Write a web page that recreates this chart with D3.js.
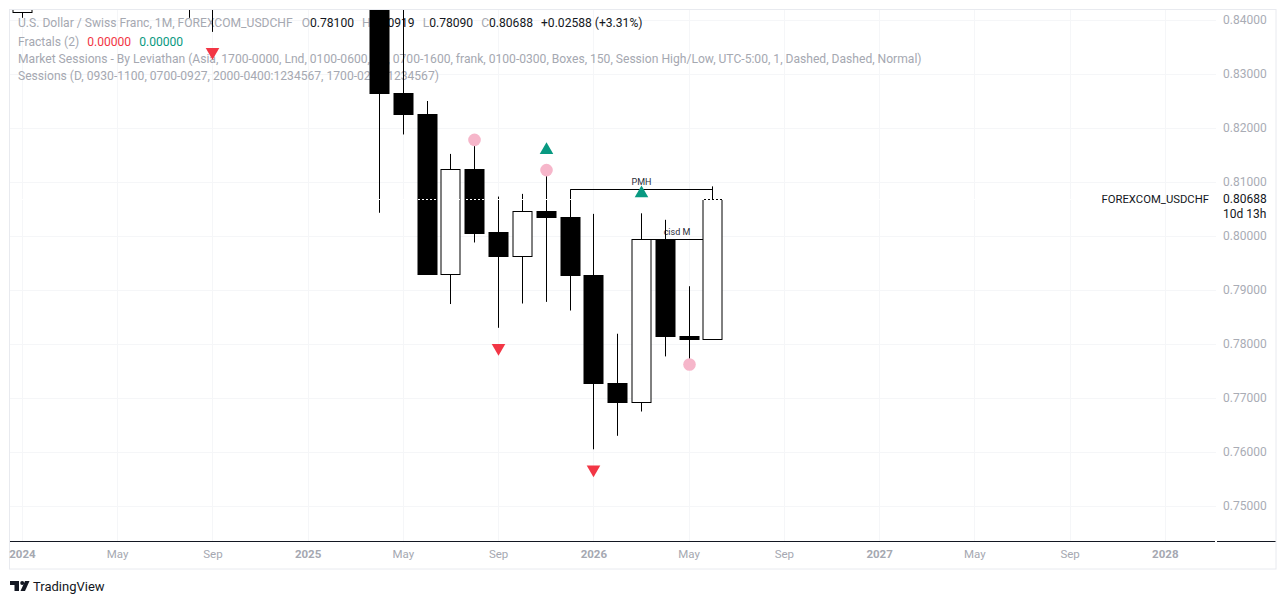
<!DOCTYPE html>
<html><head><meta charset="utf-8">
<script src="https://cdn.jsdelivr.net/npm/d3@7/dist/d3.min.js"></script>
<style>body{margin:0;background:#fff;overflow:hidden} svg{display:block}</style>
</head><body>
<svg id="c" width="1286" height="604"></svg>
<script>
// ---------------- DATA ----------------
const months = ["2024-01","2024-02","2024-03","2024-04","2024-05","2024-06","2024-07","2024-08","2024-09","2024-10","2024-11","2024-12",
  "2025-01","2025-02","2025-03","2025-04","2025-05","2025-06","2025-07","2025-08","2025-09","2025-10","2025-11","2025-12",
  "2026-01","2026-02","2026-03","2026-04","2026-05","2026-06"];
const opens  = [0.8414,0.8636,0.8838,0.9017,0.9172,0.9019,0.8987,0.8785,0.8488,0.8455,0.8650,0.8813,
  0.9075,0.9106,0.9027,0.8840,0.8264,0.8225,0.7930,0.8124,0.8007,0.7963,0.8046,0.8035,
  0.7927,0.7728,0.7693,0.7994,0.7814,0.78100];
const highs  = [0.8728,0.8853,0.9072,0.9244,0.9225,0.9050,0.9224,0.8820,0.8549,0.8690,0.8956,0.9120,
  0.9200,0.9145,0.9074,0.8917,0.8475,0.8250,0.8152,0.8178,0.8073,0.8078,0.8122,0.80865,
  0.8041,0.7819,0.8042,0.8030,0.7907,0.80919];
const lows   = [0.8404,0.8552,0.8728,0.9012,0.9015,0.8826,0.8747,0.8404,0.8378,0.8442,0.8614,0.8735,
  0.9012,0.8926,0.8757,0.8043,0.8188,0.7929,0.7874,0.7988,0.7830,0.7875,0.7878,0.7862,
  0.7605,0.7630,0.7675,0.7777,0.7762,0.78090];
const closes = [0.8636,0.8838,0.9017,0.9172,0.9019,0.8987,0.8785,0.8488,0.8455,0.8650,0.8813,0.9075,
  0.9106,0.9027,0.8840,0.8264,0.8225,0.7930,0.8124,0.8006,0.7963,0.8046,0.8035,0.7927,
  0.7728,0.7693,0.7994,0.7814,0.7810,0.80688];

const priceTicks = [0.75,0.76,0.77,0.78,0.79,0.80,0.81,0.82,0.83,0.84];
const timeTickIdx = [0,4,8,12,16,20,24,28,32,36,40,44,48];
const timeTickLabels = ["2024","May","Sep","2025","May","Sep","2026","May","Sep","2027","May","Sep","2028"];
const timeTickIsYear = [true,false,false,true,false,false,true,false,false,true,false,false,true];

const fractalDownIdx = [8,20,24];
const fractalUpIdx = [22,26];
const pivotHighIdx = [19,22];
const pivotLowIdx = [28];
const levelPrices = [0.80865, 0.79939];
const levelFrom = [23, 26];
const levelTo = [29, 29];
const levelLabels = ["PMH", "cisd M"];

const lastPrice = 0.80688;
const symbolName = "FOREXCOM_USDCHF";
const countdown = "10d 13h";

// ---------------- LAYOUT ----------------
const FONT = "Roboto, 'Liberation Sans', Arial, sans-serif";
const L = 10, R = 1216, T = 10, B = 541, AX = 1276, FB = 569;
const svg = d3.select("#c").style("font-family", FONT);

const x = d3.scaleLinear().domain([-0.5, 50.15]).range([L, R]);
const y = d3.scaleLinear().domain([0.75, 0.84]).range([506, 20]);
const step = x(1) - x(0);
const half = Math.round(step * 0.8 / 2) - 0.5;

svg.append("defs").append("clipPath").attr("id","plot")
  .append("rect").attr("x",L).attr("y",T).attr("width",R-L).attr("height",B-T);

// grid
const grid = svg.append("g").attr("stroke","#f5f6f8").attr("stroke-width",1);
grid.selectAll("line.h").data(priceTicks).join("line")
  .attr("x1",L).attr("x2",R).attr("y1",d=>Math.round(y(d))+0.5).attr("y2",d=>Math.round(y(d))+0.5);
grid.selectAll("line.v").data(timeTickIdx).join("line")
  .attr("y1",T).attr("y2",B).attr("x1",d=>Math.round(x(d))+0.5).attr("x2",d=>Math.round(x(d))+0.5);

// legend (drawn under candles)
const leg = svg.append("g").attr("font-size","12.1px");
function flow(yc, parts){
  let cx = 18;
  parts.forEach(p=>{
    cx += p.gap||0;
    const t = leg.append("text").attr("x",cx).attr("y",yc).attr("dy","0.35em").attr("fill",p.c).text(p.t);
    cx += t.node().getComputedTextLength();
  });
}
const G = "#a5a8b1", K = "#131722";
flow(23,[{t:"U.S. Dollar / Swiss Franc, 1M, FOREXCOM_USDCHF",c:G},
  {t:"O",c:G,gap:9},{t:"0.78100",c:K},{t:"H",c:G,gap:8},{t:"0.80919",c:K},
  {t:"L",c:G,gap:8},{t:"0.78090",c:K},{t:"C",c:G,gap:8},{t:"0.80688",c:K},
  {t:"+0.02588 (+3.31%)",c:K,gap:8}]);
flow(41.5,[{t:"Fractals (2)",c:G},{t:"0.00000",c:"#f23645",gap:8},{t:"0.00000",c:"#089981",gap:8}]);
flow(59,[{t:"Market Sessions - By Leviathan (Asia, 1700-0000, Lnd, 0100-0600, NY, 0700-1600, frank, 0100-0300, Boxes, 150, Session High/Low, UTC-5:00, 1, Dashed, Dashed, Normal)",c:G}]);
flow(76,[{t:"Sessions (D, 0930-1100, 0700-0927, 2000-0400:1234567, 1700-0200:1234567)",c:G}]);

// plot content
const plot = svg.append("g").attr("clip-path","url(#plot)");
const idx = d3.range(months.length);
const px = i => Math.round(x(i)) + 0.5;

// level lines
levelPrices.forEach((p,k)=>{
  const yy = Math.round(y(p))+0.5;
  plot.append("line").attr("x1",px(levelFrom[k])).attr("x2",px(levelTo[k]))
    .attr("y1",yy).attr("y2",yy).attr("stroke","#000").attr("stroke-width",1);
  plot.append("text").attr("x",(px(levelFrom[k])+px(levelTo[k]))/2).attr("y",yy-8)
    .attr("dy","0.35em").attr("text-anchor","middle").attr("font-size","9px").attr("fill","#2a2e39").text(levelLabels[k]);
});

// wicks
plot.append("g").selectAll("line").data(idx).join("line")
  .attr("x1",px).attr("x2",px)
  .attr("y1",i=>y(highs[i])).attr("y2",i=>y(lows[i]))
  .attr("stroke","#000").attr("stroke-width",1);
// bodies
plot.append("g").selectAll("rect").data(idx).join("rect")
  .attr("x",i=>px(i)-half).attr("width",half*2)
  .attr("y",i=>Math.round(y(Math.max(opens[i],closes[i])))+0.5)
  .attr("height",i=>Math.max(2, Math.round(y(Math.min(opens[i],closes[i])))-Math.round(y(Math.max(opens[i],closes[i])))))
  .attr("fill",i=>closes[i]>=opens[i]?"#fff":"#000")
  .attr("stroke","#000").attr("stroke-width",1);

// last price dotted line
const yl = Math.round(y(lastPrice))+0.5;
plot.append("line").attr("x1",L).attr("x2",R).attr("y1",yl).attr("y2",yl)
  .attr("stroke","#fff").attr("stroke-dasharray","2,2");

// pivot circles
plot.append("g").selectAll("circle").data(pivotHighIdx.map(i=>({i,p:highs[i]})).concat(pivotLowIdx.map(i=>({i,p:lows[i]}))))
  .join("circle").attr("cx",d=>px(d.i)).attr("cy",d=>y(d.p)).attr("r",6.3).attr("fill","#f6b6ca");

// fractal triangles
const tri = d3.symbol().type(d3.symbolTriangle).size(80);
plot.append("g").selectAll("path").data(fractalUpIdx).join("path")
  .attr("d",tri).attr("transform",i=>`translate(${px(i)},${y(highs[i])-20})`).attr("fill","#089981");
plot.append("g").selectAll("path").data(fractalDownIdx).join("path")
  .attr("d",tri).attr("transform",i=>`translate(${px(i)},${y(lows[i])+20}) rotate(180)`).attr("fill","#f23645");

// axes lines
svg.append("line").attr("x1",L).attr("x2",R-1).attr("y1",B+0.5).attr("y2",B+0.5).attr("stroke","#131722");
svg.append("line").attr("x1",R+1).attr("x2",AX).attr("y1",B+0.5).attr("y2",B+0.5).attr("stroke","#131722");
svg.append("rect").attr("x",9.5).attr("y",9.5).attr("width",AX-9.5).attr("height",FB-9.5)
  .attr("fill","none").attr("stroke","#e8eaef");

// price axis
const yAxis = d3.axisRight(y).tickValues(priceTicks).tickFormat(d3.format(".5f")).tickSize(0).tickPadding(0);
const ya = svg.append("g").attr("transform",`translate(1223,0)`).call(yAxis);
ya.select(".domain").remove();
ya.selectAll("text").attr("fill","#a9acb5").attr("font-size","12px").attr("font-family",FONT);

// time axis
const xAxis = d3.axisBottom(x).tickValues(timeTickIdx).tickFormat((d,k)=>timeTickLabels[k]).tickSize(0).tickPadding(0);
const xa = svg.append("g").attr("transform",`translate(0,549.5)`).call(xAxis);
xa.select(".domain").remove();
xa.selectAll("text").attr("fill","#a5a8b1").attr("font-size","11.5px").attr("font-family",FONT)
  .attr("font-weight",(d,k)=>timeTickIsYear[k]?"700":"400");

// last price labels
svg.append("text").attr("x",1223).attr("y",y(lastPrice)).attr("dy","0.35em").attr("font-size","12px").attr("fill","#131722").text(d3.format(".5f")(lastPrice));
svg.append("text").attr("x",1223).attr("y",y(lastPrice)+14.5).attr("dy","0.35em").attr("font-size","12px").attr("fill","#131722").text(countdown);
svg.append("text").attr("x",1209).attr("y",y(lastPrice)).attr("dy","0.35em").attr("text-anchor","end").attr("font-size","11.3px").attr("fill","#131722").text(symbolName);

// TradingView logo
const lg = svg.append("g").attr("fill","#131722");
lg.append("path").attr("d","M10 581 h9 v10 h-4.5 v-6 h-4.5 z");
lg.append("circle").attr("cx",22.2).attr("cy",583).attr("r",2);
lg.append("path").attr("d","M25 581 h4.5 l-4.5 10 h-4.5 z");
svg.append("text").attr("x",33).attr("y",586).attr("dy","0.35em").attr("font-size","13px").attr("fill","#131722").text("TradingView");
</script>
</body></html>
